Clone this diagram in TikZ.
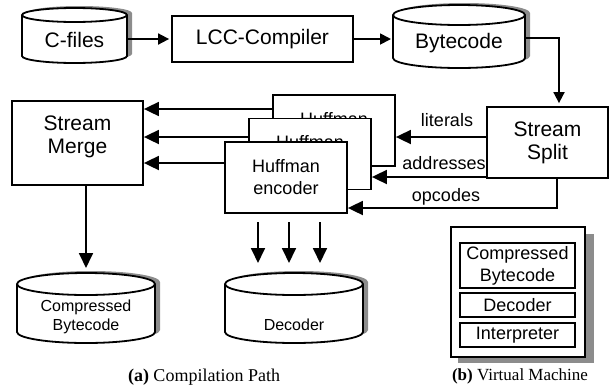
\documentclass[tikz,border=0pt]{standalone}
\usepackage{fontspec}
\setmainfont{Liberation Sans}
\newfontfamily\capfont{Liberation Serif}
\usetikzlibrary{arrows.meta}
\colorlet{cylshadow}{black!45}
% #1 name, #2 x1, #3 y1, #4 x2, #5 y2, #6 ry  (pixel coords, y downwards)
\newcommand{\mycyl}[6]{%
  \pgfmathsetmacro{\cylrx}{(#4-#2)/2}%
  \pgfmathsetmacro{\cylcx}{(#2+#4)/2}%
  \pgfmathsetmacro{\cylcy}{-(#3+#5)/2}%
  \pgfmathsetmacro{\cylw}{#4-#2}%
  \pgfmathsetmacro{\cylh}{#5-#3}%
  \fill[cylshadow, shift={(5,2)}] (#2,-#3-#6) arc[start angle=180,end angle=0,x radius=\cylrx pt,y radius=#6 pt]
     -- (#4,-#5+#6) arc[start angle=0,end angle=-180,x radius=\cylrx pt,y radius=#6 pt] -- cycle;
  \filldraw[fill=white] (#2,-#3-#6) arc[start angle=180,end angle=0,x radius=\cylrx pt,y radius=#6 pt]
     -- (#4,-#5+#6) arc[start angle=0,end angle=-180,x radius=\cylrx pt,y radius=#6 pt] -- cycle;
  \draw (#2,-#3-#6) arc[start angle=180,end angle=360,x radius=\cylrx pt,y radius=#6 pt];
  \node[inner sep=0pt, outer sep=0pt, minimum width=\cylw pt, minimum height=\cylh pt] (#1) at (\cylcx,\cylcy) {};
}
\begin{document}
\begin{tikzpicture}[x=1pt,y=1pt,
  line width=1.8pt,
  bigfont/.style={font=\fontsize{21}{23}\selectfont},
  midfont/.style={font=\fontsize{18}{22}\selectfont},
  smallfont/.style={font=\fontsize{16}{19}\selectfont},
  capstyle/.style={font=\capfont\fontsize{17}{20}\selectfont, inner sep=0pt},
  box/.style={draw, fill=white, inner sep=0pt, align=center},
  encbox/.style={box, minimum width=122pt, minimum height=71pt},
  sarr/.style={-{Triangle[length=11pt,width=11pt]}, shorten >=2pt},
  barr/.style={-{Triangle[length=15pt,width=14pt]}},
  lbl/.style={midfont, inner sep=0pt},
]
\useasboundingbox (0,0) rectangle (610,-389);

% --- top row
\mycyl{cfiles}{22}{8}{127}{63}{7}
\node[bigfont, inner sep=0pt] (cfilesT) at (74.5,-40) {C-files};
\node[box, bigfont, minimum width=181pt, minimum height=46pt] (lcc) at (262.5,-39) {LCC-Compiler};
\mycyl{bytecode}{393}{5}{525}{68}{10}
\node[bigfont, inner sep=0pt] (bytecodeT) at (459,-43) {Bytecode};

% --- middle row
\node[box, minimum width=131pt, minimum height=84pt] (merge) at (77.5,-143) {};
\node[bigfont, align=center, inner sep=0pt] (mergeT) at (77.5,-137) {Stream\\Merge};
\node[box, bigfont, minimum width=121pt, minimum height=71pt] (split) at (547.5,-142.5) {Stream\\Split};
\node[encbox] (b1) at (334,-130.5) {};
\node[midfont, inner sep=0pt] (b1T) at (334,-119) {Huffman};
\node[encbox] (b2) at (310,-154) {};
\node[midfont, inner sep=0pt] (b2T) at (310,-142.5) {Huffman};
\node[encbox, midfont] (b3) at (286,-177.5) {Huffman\\encoder};

% --- bottom row
\mycyl{cbyte}{17}{273}{155}{343}{11}
\node[smallfont, align=center, inner sep=0pt] (cbyteT) at (86,-316.5) {Compressed\\Bytecode};
\mycyl{dec}{225}{273}{363}{343}{11}
\node[smallfont, inner sep=0pt] (decT) at (294,-325) {Decoder};

% --- virtual machine
\fill[cylshadow] (458,-234) rectangle (594,-363);
\node[box, minimum width=134pt, minimum height=130pt] (vm) at (518,-292) {};
\node[box, midfont, minimum width=115pt, minimum height=45pt] (vcb) at (517.5,-265.5) {Compressed\\Bytecode};
\node[box, midfont, minimum width=115pt, minimum height=24pt] (vdec) at (517.5,-305) {Decoder};
\node[box, midfont, minimum width=115pt, minimum height=24pt] (vint) at (517.5,-335) {Interpreter};

% --- connectors top
\draw[sarr] (lcc.west -| cfiles.east) -- (lcc.west);
\draw[sarr] (lcc.east) -- (lcc.east -| bytecode.west);
\coordinate (bs) at (559,-38);
\draw[sarr, shorten >=3pt] (bs -| bytecode.east) -- (bs) -- (bs |- split.north);

% --- encoders to merge
\coordinate (ya) at (0,-109);
\coordinate (yb) at (0,-137);
\coordinate (yc) at (0,-163);
\draw[barr] (b1.west |- ya) -- (merge.east |- ya);
\draw[barr] (b2.west |- yb) -- (merge.east |- yb);
\draw[barr] (b3.west |- yc) -- (merge.east |- yc);

% --- split to encoders
\coordinate (ylit) at (0,-137);
\coordinate (yadr) at (0,-177);
\coordinate (oc) at (557,-208);
\draw[barr] (split.west |- ylit) -- (b1.east |- ylit);
\draw[barr] (split.west |- yadr) -- (b2.east |- yadr);
\draw[barr] (oc |- split.south) -- (oc) -- (oc -| b3.east);
\node[lbl] (litl) at (447,-120) {literals};
\node[lbl] (adrl) at (444,-163) {addresses};
\node[lbl] (opl) at (446,-197) {opcodes};

% --- down arrows
\draw[barr] (cbyte.north |- merge.south) -- ([yshift=5pt]cbyte.north);
\coordinate (dt) at ([yshift=10pt]dec.north);
\coordinate (d1) at (258,-222);
\coordinate (d2) at (289,-222);
\coordinate (d3) at (320,-222);
\draw[barr] (d1) -- (d1 |- dt);
\draw[barr] (d2) -- (d2 |- dt);
\draw[barr] (d3) -- (d3 |- dt);

% --- captions
\node[capstyle, font=\capfont\fontsize{18}{20}\selectfont] (capa) at (204,-377) {\textbf{(a)} Compilation Path};
\node[capstyle] (capb) at (520,-376) {\textbf{(b)} Virtual Machine};
\end{tikzpicture}
\end{document}
